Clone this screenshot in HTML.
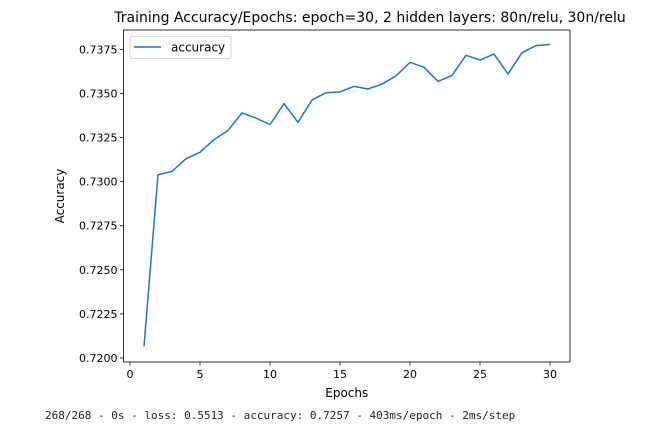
<!DOCTYPE html>
<html><head><meta charset="utf-8"><style>
body{margin:0;background:#fff;width:654px;height:430px;overflow:hidden}
svg text{font-family:"DejaVu Sans","Liberation Sans",sans-serif;fill:#000}
.console{position:absolute;left:45px;top:409px;font-family:"DejaVu Sans Mono","Liberation Mono",monospace;font-size:11px;color:#222;white-space:pre}
</style></head><body>
<svg id="chart" width="654" height="430" style="position:absolute;left:0;top:0"></svg>
<div class="console">268/268 - 0s - loss: 0.5513 - accuracy: 0.7257 - 403ms/epoch - 2ms/step</div>
<script>
const epochs=[1,2,3,4,5,6,7,8,9,10,11,12,13,14,15,16,17,18,19,20,21,22,23,24,25,26,27,28,29,30];
const accuracy=[0.72066,0.73039,0.73058,0.7313,0.73166,0.73238,0.7329,0.73389,0.7336,0.73323,0.73442,0.73336,0.73463,0.73504,0.73508,0.7354,0.73525,0.73553,0.73599,0.73676,0.73648,0.73568,0.73602,0.73716,0.73689,0.73723,0.7361,0.73731,0.73771,0.73778];
const xTicks=[0,5,10,15,20,25,30];
const yTicks=[0.7200,0.7225,0.7250,0.7275,0.7300,0.7325,0.7350,0.7375];
const NS="http://www.w3.org/2000/svg";
const svg=document.getElementById('chart');
const L=123.5,R=570,T=30,B=362;
const x=v=>130+v*14;
const y=v=>358-(v-0.72)/0.0025*44.1;
function mk(t,a,p){const e=document.createElementNS(NS,t);for(const k in a)e.setAttribute(k,a[k]);(p||svg).appendChild(e);return e;}
const title=mk('text',{x:370,y:22,'text-anchor':'middle','font-size':14});
title.textContent='Training Accuracy/Epochs: epoch=30, 2 hidden layers: 80n/relu, 30n/relu';


const frame=mk('rect',{x:L,y:T,width:R-L,height:B-T,fill:'none',stroke:'#000','stroke-width':0.8});


xTicks.forEach(t=>{
  mk('line',{x1:x(t),x2:x(t),y1:B,y2:B+3.5,stroke:'#000','stroke-width':0.8});
  const tx=mk('text',{x:x(t),y:B+16,'text-anchor':'middle','font-size':11});
  tx.textContent=t;
  
  
});
yTicks.forEach(t=>{
  mk('line',{x1:L-3.5,x2:L,y1:y(t),y2:y(t),stroke:'#000','stroke-width':0.8});
  const tx=mk('text',{x:L-6,y:y(t)+4,'text-anchor':'end','font-size':11});
  tx.textContent=t.toFixed(4);
  
  
});
const xl=mk('text',{x:(L+R)/2,y:397,'text-anchor':'middle','font-size':12});
xl.textContent='Epochs';


const yl=mk('text',{x:64,y:(T+B)/2,'text-anchor':'middle','font-size':12,transform:`rotate(-90 64 ${(T+B)/2})`});
yl.textContent='Accuracy';


const line=mk('polyline',{points:epochs.map((e,i)=>x(e)+','+y(accuracy[i])).join(' '),fill:'none',stroke:'#1f77b4','stroke-width':1.5,'stroke-linejoin':'round'});


const lg=mk('g',{});


mk('rect',{x:130,y:36.5,width:101,height:22,rx:2,fill:'#fff',stroke:'#ccc','stroke-width':0.8},lg);
mk('line',{x1:134,x2:161,y1:47,y2:47,stroke:'#1f77b4','stroke-width':1.5},lg);
const lt=mk('text',{x:171,y:51.5,'font-size':12},lg);
lt.textContent='accuracy';


</script>
</body></html>
